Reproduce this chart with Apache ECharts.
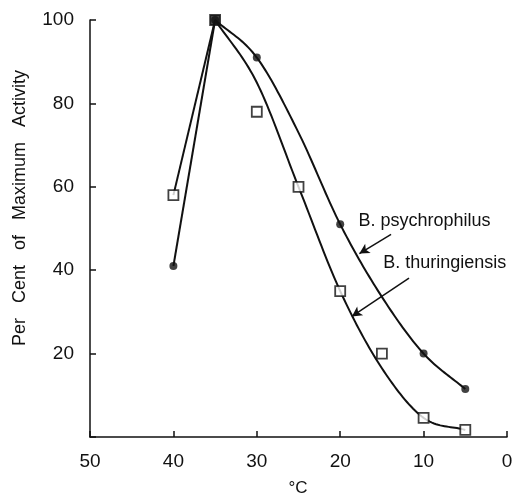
<!DOCTYPE html>
<html><head><meta charset="utf-8">
<script src="https://cdn.jsdelivr.net/npm/echarts@6/dist/echarts.min.js"></script>
<style>html,body{margin:0;padding:0;background:#fff}#c{width:518px;height:496px}</style>
</head><body><div id="c"></div>
<script>
// Measured points
const psychTemps = [40, 35, 30, 20, 10, 5];
const psychValues = [41, 100, 91, 51, 20, 11.5];
const thurTemps = [40, 35, 30, 25, 20, 15, 10, 5];
const thurValues = [58, 100, 78, 60, 35, 20, 4.6, 1.7];
// Drawn (fitted) curves
const curveTemps = [35, 30, 25, 20, 15, 10, 5];
const psychCurve = [100, 91, 73, 51, 33.6, 20, 11.5];
const thurCurve = [100, 85, 60, 35, 16.5, 4.6, 1.7];
// Axis ticks
const xTicks = [50, 40, 30, 20, 10, 0];
const yTicks = [20, 40, 60, 80, 100];
// Annotations (data coords)
const psychLabel = {text: 'B. psychrophilus', at: [17.8, 51.8], arrowFrom: [13.9, 48.6], arrowTo: [17.7, 44.0]};
const thurLabel = {text: 'B. thuringiensis', at: [14.85, 41.6], arrowFrom: [11.75, 38.1], arrowTo: [18.6, 28.9]};

const FONT = 'Liberation Sans';
const pairs = (xs, ys) => xs.map((x, i) => [x, ys[i]]);
const chart = echarts.init(document.getElementById('c'), null, {renderer: 'canvas'});
const black = '#111';
const lw = 2;

// Smooth curve through the read-off curve values (Catmull-Rom), mapped through the axes
function splineSeries(xs, ys) {
  return {
    type: 'custom', data: pairs(xs, ys), z: 2, silent: true,
    renderItem: function (params, api) {
      if (params.dataIndex !== 0) return;
      const n = xs.length, pts = [];
      const P = i => [xs[Math.max(0, Math.min(n - 1, i))], ys[Math.max(0, Math.min(n - 1, i))]];
      for (let i = 0; i < n - 1; i++) {
        const p0 = P(i - 1), p1 = P(i), p2 = P(i + 1), p3 = P(i + 2);
        const m1 = [(p2[0] - p0[0]) / (i === 0 ? 1 : 2), (p2[1] - p0[1]) / (i === 0 ? 1 : 2)];
        const m2 = [(p3[0] - p1[0]) / (i + 1 === n - 1 ? 1 : 2), (p3[1] - p1[1]) / (i + 1 === n - 1 ? 1 : 2)];
        for (let k = 0; k < 20; k++) {
          const t = k / 20, t2 = t * t, t3 = t2 * t;
          const h00 = 2 * t3 - 3 * t2 + 1, h10 = t3 - 2 * t2 + t, h01 = -2 * t3 + 3 * t2, h11 = t3 - t2;
          const x = h00 * p1[0] + h10 * m1[0] + h01 * p2[0] + h11 * m2[0];
          const y = h00 * p1[1] + h10 * m1[1] + h01 * p2[1] + h11 * m2[1];
          pts.push(api.coord([x, y]));
        }
      }
      pts.push(api.coord([xs[n - 1], ys[n - 1]]));
      return {type: 'polyline', shape: {points: pts}, style: {stroke: black, lineWidth: lw, fill: null}};
    }
  };
}

const option = {
  animation: false,
  backgroundColor: '#fff',
  grid: {left: 90, right: 11, top: 20, bottom: 59},
  xAxis: {
    type: 'value', min: 0, max: 50, interval: 10, inverse: true,
    axisLine: {lineStyle: {color: black, width: 1.5}},
    axisTick: {inside: true, length: 6, lineStyle: {color: black, width: 1.5}},
    axisLabel: {color: black, fontSize: 19, fontFamily: FONT, margin: 15,
      formatter: v => xTicks.includes(v) ? String(v) : ''},
    splitLine: {show: false}
  },
  yAxis: {
    type: 'value', min: 0, max: 100, interval: 20, position: 'left',
    axisLine: {show: true, onZero: false, lineStyle: {color: black, width: 1.5}},
    axisTick: {show: true, inside: true, length: 6, lineStyle: {color: black, width: 1.5}},
    axisLabel: {color: black, fontSize: 19, fontFamily: FONT, margin: 16,
      formatter: v => yTicks.includes(v) ? String(v) : ''},
    splitLine: {show: false}
  },
  series: [
    {type: 'line', data: pairs(psychTemps.slice(0, 2), psychValues.slice(0, 2)), symbol: 'none',
      lineStyle: {color: black, width: lw}, z: 2},
    {type: 'line', data: pairs(thurTemps.slice(0, 2), thurValues.slice(0, 2)), symbol: 'none',
      lineStyle: {color: black, width: lw}, z: 2},
    splineSeries(curveTemps, psychCurve),
    splineSeries(curveTemps, thurCurve),
    {type: 'scatter', data: pairs(psychTemps, psychValues), symbol: 'circle', symbolSize: 8,
      itemStyle: {color: black}, z: 3,
      markLine: {
        silent: true, symbol: ['none', 'arrow'], symbolSize: [8, 10],
        lineStyle: {color: black, width: 1.5, type: 'solid'}, label: {show: false},
        data: [
          [{coord: psychLabel.arrowFrom}, {coord: psychLabel.arrowTo}],
          [{coord: thurLabel.arrowFrom}, {coord: thurLabel.arrowTo}]
        ]
      }},
    {type: 'scatter', data: pairs(thurTemps, thurValues).map((p, i) => ({
        value: p, itemStyle: thurTemps[i] === 35 ? {color: black} : undefined})),
      symbol: 'rect', symbolSize: 10,
      itemStyle: {color: '#fff', borderColor: black, borderWidth: 1.8}, z: 4}
  ]
};
chart.setOption(option);

const txt = (x, y, text) => ({
  type: 'text', x, y,
  style: {text, fill: black, font: '18px "' + FONT + '"', textAlign: 'left', textVerticalAlign: 'middle'}
});
const p1 = chart.convertToPixel({gridIndex: 0}, psychLabel.at);
const p2 = chart.convertToPixel({gridIndex: 0}, thurLabel.at);
chart.setOption({graphic: [
  txt(p1[0], p1[1], psychLabel.text),
  txt(p2[0], p2[1], thurLabel.text),
  {type: 'text', x: 20, y: 208, rotation: Math.PI / 2,
    style: {text: 'Per   Cent   of   Maximum   Activity', fill: black, font: '18px "' + FONT + '"',
      textAlign: 'center', textVerticalAlign: 'middle'}},
  {type: 'text', x: 298, y: 488,
    style: {text: '°C', fill: black, font: '17px "' + FONT + '"', textAlign: 'center', textVerticalAlign: 'middle'}}
]});
</script></body></html>
